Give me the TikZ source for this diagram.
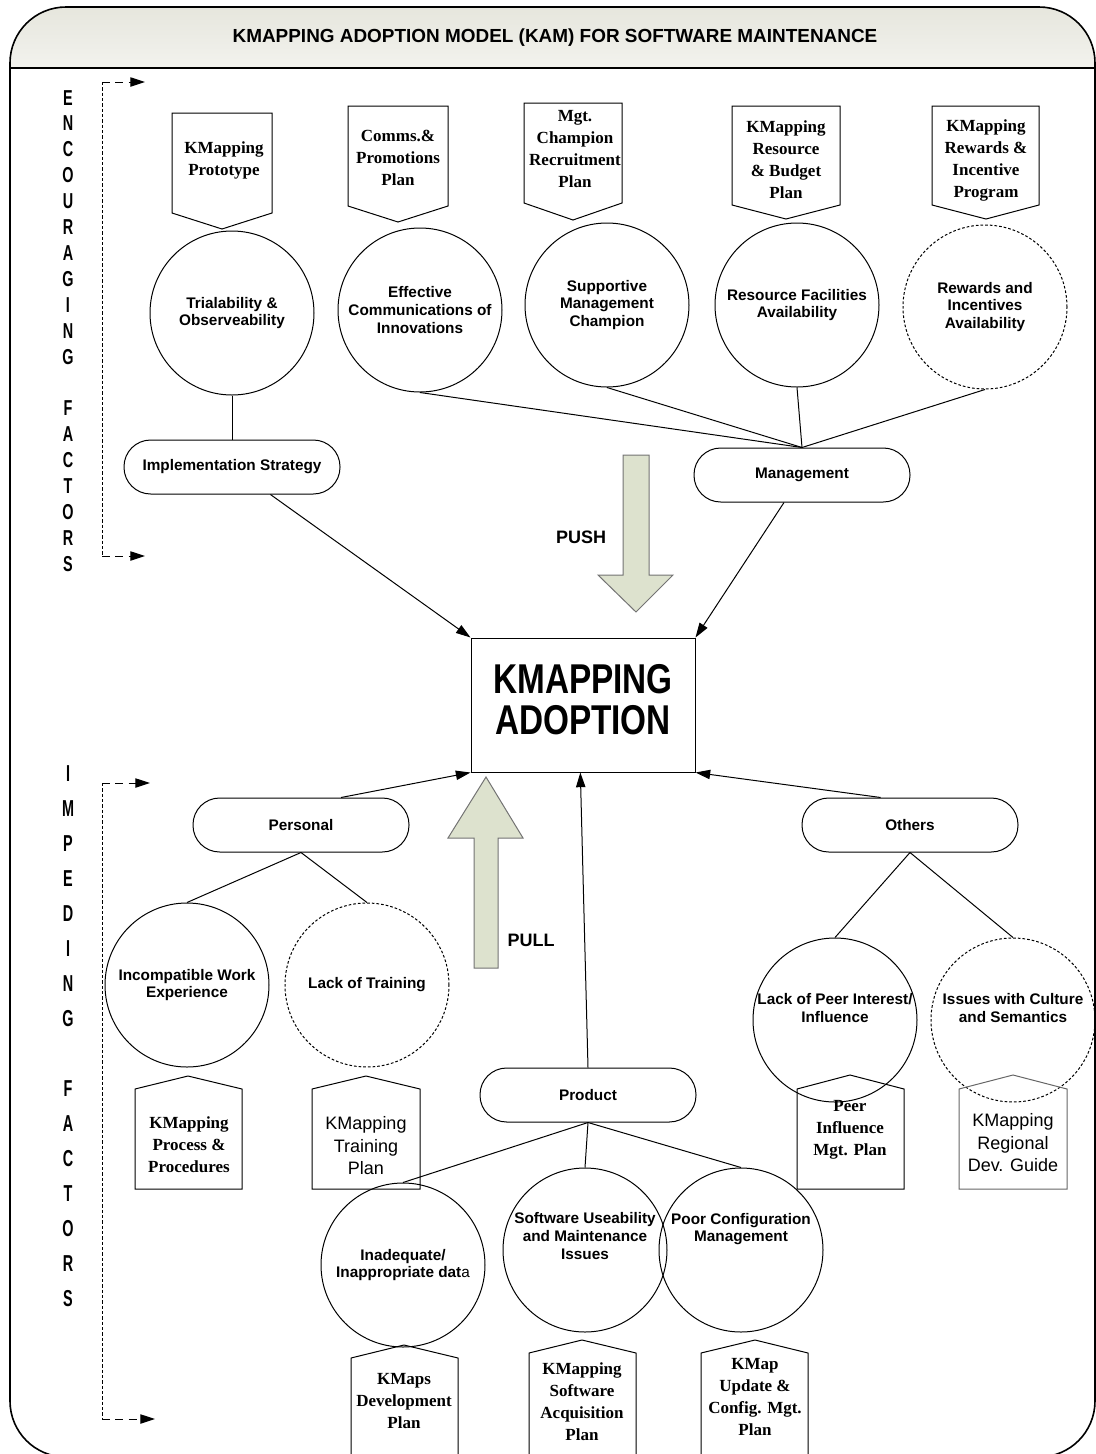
\documentclass[tikz,border=0pt]{standalone}
\usepackage{fontspec}
\setmainfont{Liberation Serif}
\setsansfont{Liberation Sans}
\usetikzlibrary{arrows.meta}
\definecolor{pushfill}{HTML}{DDE2CE}
\definecolor{hdrtop}{HTML}{E6E6DD}
\begin{document}
\begin{tikzpicture}[x=0.75pt,y=-0.75pt,
  every node/.style={inner sep=0pt},
  circfont/.style={font=\sffamily\bfseries\fontsize{11.5}{13.2}\selectfont},
  circ/.style={circle, draw, line width=0.75pt, minimum size=123pt, align=center, circfont},
  dcirc/.style={circ, dash pattern=on 2pt off 1.5pt},
  lab/.style={align=center, circfont},
  pill/.style={draw, rounded corners=20pt, line width=0.75pt, minimum width=162pt, minimum height=40.5pt, circfont},
  pent/.style={draw, line width=0.75pt},
  ptext/.style={align=center, font=\bfseries\fontsize{12.75}{16.5}\selectfont},
  stext/.style={align=center, font=\sffamily\fontsize{13.5}{16.9}\selectfont},
  arr/.style={-{Triangle[length=11pt,width=7pt]}, line width=0.75pt},
  darr/.style={-{Triangle[length=11pt,width=7pt]}, line width=0.75pt, dash pattern=on 6pt off 4pt},
  dln/.style={line width=0.6pt, dash pattern=on 2.5pt off 1.5pt},
  bigarrow/.style={draw=black!55, fill=pushfill, line width=0.75pt},
  vtext/.style={font=\sffamily\bfseries\fontsize{10.8}{12.95}\selectfont},
  vtextb/.style={font=\sffamily\bfseries\fontsize{10.8}{16.4}\selectfont},
  ln/.style={line width=0.75pt}
]
\useasboundingbox (0,0) rectangle (1096,1454);

% header shading
\begin{scope}
  \clip (0,0) rectangle (1096,68);
  \shade[top color=hdrtop, bottom color=white, rounded corners=42pt] (10,7) rectangle (1095,130);
\end{scope}
\draw[line width=1.2pt, rounded corners=42pt] (10,7) rectangle (1095,1457);
\draw[line width=1.4pt] (10,68) -- (1095,68);
\node[font=\sffamily\bfseries\fontsize{14.2}{17}\selectfont] (title) at (555,38) {KMAPPING ADOPTION MODEL (KAM) FOR SOFTWARE MAINTENANCE};

% vertical texts
\node[vtext] (enc) at (68,333) {\scalebox{1}[1.5]{\begin{tabular}{@{}c@{}}E\\N\\C\\O\\U\\R\\A\\G\\I\\N\\G\\ \\F\\A\\C\\T\\O\\R\\S\end{tabular}}};
\node[vtextb] (imp) at (68,1037) {\scalebox{1}[1.6]{\begin{tabular}{@{}c@{}}I\\M\\P\\E\\D\\I\\N\\G\\ \\F\\A\\C\\T\\O\\R\\S\end{tabular}}};

% dashed brackets
\coordinate (ua) at (102,82);
\coordinate (ub) at (102,556);
\coordinate (uat) at (145,82);
\coordinate (ubt) at (145,556);
\draw[dln] (ua) -- (ub);
\draw[darr] (ua) -- (uat);
\draw[darr] (ub) -- (ubt);
\coordinate (la) at (102,783);
\coordinate (lb) at (102,1419);
\coordinate (lat) at (150,783);
\coordinate (lbt) at (155,1419);
\draw[dln] (la) -- (lb);
\draw[darr] (la) -- (lat);
\draw[darr] (lb) -- (lbt);

% top pentagons (pointing down)
\draw[pent] (172,113) -- (272,113) -- (272,213) -- (222,229) -- (172,213) -- cycle;
\node[ptext] (p1) at (224,160) {KMapping\\Prototype};
\draw[pent] (348,106) -- (448,106) -- (448,206) -- (398,222) -- (348,206) -- cycle;
\node[ptext] (p2) at (398,158) {Comms.\&\\Promotions\\Plan};
\draw[pent] (524,103) -- (622,103) -- (622,203) -- (573,220) -- (524,203) -- cycle;
\node[ptext] (p3) at (575,149) {Mgt.\\Champion\\Recruitment\\Plan};
\draw[pent] (732,106) -- (840,106) -- (840,205) -- (786,219) -- (732,205) -- cycle;
\node[ptext] (p4) at (786,160) {KMapping\\Resource\\\& Budget\\Plan};
\draw[pent] (932,106) -- (1039,106) -- (1039,205) -- (986,219) -- (932,205) -- cycle;
\node[ptext] (p5) at (986,160) {KMapping\\Rewards \&\\Incentive\\Program};

% top circles
\node[circ] (c1) at (232,313) {Trialability \&\\Observeability};
\node[circ] (c2) at (420,310) {Effective\\Communications of\\Innovations};
\node[circ] (c3) at (607,305) {Supportive\\Management\\Champion};
\node[circ] (c4) at (797,305) {Resource Facilities\\Availability};
\node[dcirc] (c5) at (985,307) {Rewards and\\Incentives\\Availability};

% pills
\node[pill] (impl) at (232,467) {Implementation Strategy};
\node[pill] (mgmt) at (802,475) {Management};
\node[pill] (pers) at (301,825) {Personal};
\node[pill] (oth) at (910,825) {Others};
\node[pill] (prod) at (588,1095) {Product};

\draw[ln] (c1.south) -- (impl.north);
\draw[ln] (c2.south) -- (mgmt.north);
\draw[ln] (c3.south) -- (mgmt.north);
\draw[ln] (c4.south) -- (mgmt.north);
\draw[ln] (c5.south) -- (mgmt.north);

% central box
\node[draw, line width=0.75pt, minimum width=168pt, minimum height=100.5pt,
      font=\sffamily\bfseries\fontsize{25}{22.2}\selectfont] (kam) at (583,705)
      {\scalebox{1}[1.25]{\begin{tabular}{@{}c@{}}KMAPPING\\ADOPTION\end{tabular}}};

\draw[arr] (impl) -- (kam.north west);
\draw[arr] (mgmt) -- (kam.north east);
\draw[arr] ([xshift=30pt]pers.north) -- (kam.south west);
\draw[arr] ([xshift=-22pt]oth.north) -- (kam.south east);
\draw[arr] (prod.north) -- ([xshift=-2pt]kam.south);

% push / pull arrows
\draw[bigarrow] (623,455) -- (649,455) -- (649,575) -- (673,575) -- (636,612) -- (598,575) -- (623,575) -- cycle;
\node[font=\sffamily\bfseries\fontsize{13.5}{16}\selectfont] (push) at (581,537) {PUSH};
\draw[bigarrow] (474,968) -- (498,968) -- (498,838) -- (523,838) -- (486,777) -- (448,838) -- (474,838) -- cycle;
\node[font=\sffamily\bfseries\fontsize{13.5}{16}\selectfont] (pull) at (531,940) {PULL};

% lower circles
\node[circ] (d1) at (187,985) {Incompatible Work\\Experience};
\node[dcirc] (d2) at (367,985) {Lack of Training};
\node[circ] (d3) at (835,1020) {};
\node[lab] (d3t) at (835,1008) {Lack of Peer Interest/\\Influence};
\node[dcirc] (d4) at (1013,1020) {};
\node[lab] (d4t) at (1013,1008) {Issues with Culture\\and Semantics};
\node[circ] (e1) at (403,1265) {Inadequate/\\Inappropriate dat{\mdseries a}};
\node[circ] (e2) at (585,1250) {};
\node[lab] (e2t) at (585,1236) {Software Useability\\and Maintenance\\Issues};
\node[circ] (e3) at (741,1250) {};
\node[lab] (e3t) at (741,1229) {Poor Configuration\\Management};

\draw[ln] (pers.south) -- (d1.north);
\draw[ln] (pers.south) -- (d2.north);
\draw[ln] (oth.south) -- (d3.north);
\draw[ln] (oth.south) -- (d4.north);
\draw[ln] (prod.south) -- (e1.north);
\draw[ln] (prod.south) -- (e2.north);
\draw[ln] (prod.south) -- (e3.north);

% lower pentagons (pointing up)
\draw[pent] (135,1189) -- (135,1089) -- (188,1076) -- (242,1089) -- (242,1189) -- cycle;
\node[ptext] (q1) at (189,1145) {KMapping\\Process \&\\Procedures};
\draw[pent] (312,1189) -- (312,1089) -- (366,1076) -- (420,1089) -- (420,1189) -- cycle;
\node[stext] (q2) at (366,1146) {KMapping\\Training\\Plan};
\draw[pent] (797,1189) -- (797,1089) -- (850,1075) -- (904,1089) -- (904,1189) -- cycle;
\node[ptext] (q3) at (850,1130) {Peer\\Influence\\Mgt. Plan};
\draw[pent, draw=black!60] (959,1189) -- (959,1089) -- (1013,1075) -- (1067,1089) -- (1067,1189) -- cycle;
\node[stext] (q4) at (1013,1143) {KMapping\\Regional\\Dev. Guide};
\draw[pent] (351,1470) -- (351,1358) -- (404,1345) -- (458,1358) -- (458,1470);
\node[ptext] (q5) at (404,1401) {KMaps\\Development\\Plan};
\draw[pent] (529,1470) -- (529,1353) -- (582,1340) -- (636,1353) -- (636,1470);
\node[ptext] (q6) at (582,1402) {KMapping\\Software\\Acquisition\\Plan};
\draw[pent] (701,1470) -- (701,1353) -- (755,1340) -- (808,1353) -- (808,1470);
\node[ptext] (q7) at (755,1397) {KMap\\Update \&\\Config. Mgt.\\Plan};
\end{tikzpicture}
\end{document}
